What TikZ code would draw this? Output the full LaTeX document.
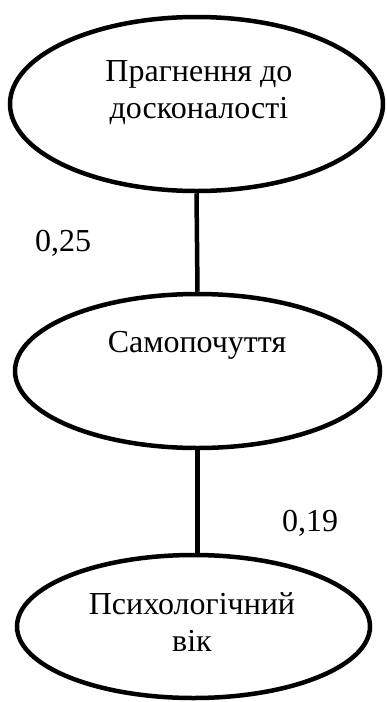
\documentclass[tikz,border=0pt]{standalone}
\usepackage{fontspec}
\setmainfont{Liberation Serif}
\usetikzlibrary{shapes.geometric,positioning}
\tikzset{
  factor/.style={draw, ellipse, line width=4.5pt, inner sep=0pt},
  caption/.style={align=center, inner sep=0pt, font=\fontsize{32}{37}\selectfont},
  coef/.style={inner sep=0pt, font=\fontsize{32}{37}\selectfont},
  link/.style={line width=4.5pt},
}
\begin{document}
\begin{tikzpicture}[x=1pt, y=-1pt]
    \useasboundingbox (0,0) rectangle (386,702);
    % ellipses
    \node[factor, minimum width=373pt, minimum height=174pt] (perf) at (196.5,104) {};
    \node[factor, minimum width=365pt, minimum height=154pt] (feel) at (197.5,371) {};
    \node[factor, minimum width=353pt, minimum height=143pt] (age) at (193.5,626.5) {};
    % texts
    \node[caption] (perftext) at (199,93) {Прагнення до\\досконалості};
    \node[caption] (feeltext) at (197,345) {Самопочуття};
    \node[caption] (agetext) at (192,622) {Психологічний\\вік};
    % links
    \draw[link] (perf.south) -- (feel.north);
    \draw[link] (feel.south) -- (feel.south |- age.north);
    \node[coef] (c1) at (63,243) {0,25};
    \node[coef] (c2) at (310,523) {0,19};
\end{tikzpicture}
\end{document}
